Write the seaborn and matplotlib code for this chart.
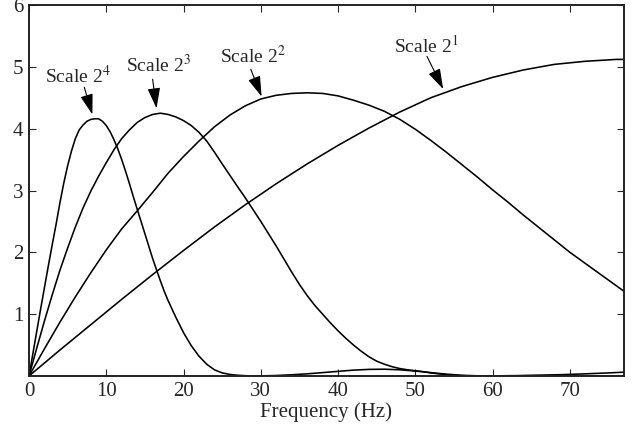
import numpy as np
import pandas as pd
import matplotlib
matplotlib.use("Agg")
import matplotlib.pyplot as plt
import seaborn as sns

# ---- data ----
f_s1 = [0, 4, 8, 12, 16, 20, 24, 28, 32, 36, 40, 44, 48, 52, 56, 60, 64, 68, 72, 76, 77]
v_s1 = [0, 0.42, 0.83, 1.24, 1.64, 2.03, 2.41, 2.77, 3.11, 3.43, 3.73, 4.01, 4.27,
        4.50, 4.68, 4.83, 4.95, 5.04, 5.09, 5.12, 5.12]

f_s2 = [0, 2, 4, 6, 8, 10, 12, 14, 16, 18, 20, 22, 24, 26, 28, 30, 32, 34, 36, 38,
        40, 42, 44, 46, 48, 50, 52, 54, 56, 58, 60, 62, 64, 66, 68, 70, 72, 74, 76, 77]
v_s2 = [0, 0.44, 0.87, 1.28, 1.67, 2.04, 2.38, 2.67, 2.97, 3.28, 3.55, 3.80, 4.03,
        4.22, 4.37, 4.48, 4.54, 4.57, 4.58, 4.57, 4.53, 4.46, 4.38, 4.28, 4.15, 3.99,
        3.81, 3.62, 3.42, 3.22, 3.01, 2.81, 2.60, 2.40, 2.20, 2.00, 1.82, 1.64, 1.46, 1.37]

f_s3 = [0, 1, 2, 3, 4, 5, 6, 7, 8, 9, 10, 11, 12, 13, 14, 15, 16, 17, 18, 19, 20,
        21, 22, 23, 24, 25, 26, 27, 28, 29, 30, 31, 32, 33, 34, 35, 36, 37, 38, 39,
        40, 41, 42, 43, 44, 45, 46, 47, 48, 49, 50, 51, 52, 53, 54, 55, 56, 57, 58,
        60, 63, 66, 69, 72, 75, 77]
v_s3 = [0, 0.45, 0.89, 1.31, 1.71, 2.07, 2.41, 2.72, 2.99, 3.23, 3.45, 3.66, 3.84,
        3.98, 4.10, 4.18, 4.23, 4.25, 4.23, 4.19, 4.13, 4.05, 3.94, 3.80, 3.62, 3.43,
        3.245, 3.06, 2.88, 2.69, 2.50, 2.30, 2.10, 1.89, 1.68, 1.48, 1.30, 1.14, 1.00,
        0.86, 0.73, 0.61, 0.50, 0.40, 0.31, 0.24, 0.19, 0.15, 0.12, 0.10, 0.085, 0.07,
        0.05, 0.035, 0.022, 0.012, 0.005, 0.001, 0.0,
        0.002, 0.006, 0.013, 0.022, 0.035, 0.05, 0.062]

f_s4 = [0, 0.5, 1, 1.5, 2, 2.5, 3, 3.5, 4, 4.5, 5, 5.5, 6, 6.5, 7, 7.5, 8, 8.5, 9,
        9.5, 10, 10.5, 11, 11.5, 12, 12.5, 13, 13.5, 14, 14.5, 15, 15.5, 16, 16.5,
        17, 17.5, 18, 19, 20, 21, 22, 23, 24, 25, 26, 27, 28, 29, 30, 32, 34, 36,
        38, 40, 42, 44, 46, 48, 50, 52, 54, 56, 58, 60, 63, 66, 69, 72, 75, 77]
v_s4 = [0, 0.36, 0.72, 1.08, 1.43, 1.78, 2.12, 2.45, 2.80, 3.12, 3.40, 3.64, 3.84,
        3.98, 4.06, 4.12, 4.15, 4.16, 4.16, 4.12, 4.05, 3.95, 3.82, 3.67, 3.50, 3.31,
        3.11, 2.90, 2.70, 2.50, 2.30, 2.10, 1.90, 1.72, 1.54, 1.37, 1.22, 0.95, 0.70,
        0.49, 0.32, 0.19, 0.10, 0.05, 0.025, 0.012, 0.005, 0.0, 0.002, 0.008, 0.02,
        0.035, 0.055, 0.075, 0.095, 0.107, 0.11, 0.10, 0.08, 0.055, 0.03, 0.012,
        0.003, 0.0, 0.003, 0.006, 0.006, 0.004, 0.002, 0.0]

scale_names = ["2^1", "2^2", "2^3", "2^4"]
x_ticks = [0, 10, 20, 30, 40, 50, 60, 70]
y_ticks = [1, 2, 3, 4, 5, 6]

labels = [r"Scale 2$^{1}$", r"Scale 2$^{2}$", r"Scale 2$^{3}$", r"Scale 2$^{4}$"]
label_xy = [(51.4, 5.34), (28.95, 5.17), (16.7, 5.03), (6.3, 4.85)]
arrow_tail = [(51.5, 5.17), (28.7, 4.96), (16.0, 4.80), (7.15, 4.67)]
arrow_tip = [(53.6, 4.64), (30.1, 4.52), (16.5, 4.33), (8.2, 4.23)]

# ---- build long-form table ----
frames = []
for name, fx, vy in zip(scale_names, [f_s1, f_s2, f_s3, f_s4], [v_s1, v_s2, v_s3, v_s4]):
    frames.append(pd.DataFrame({"freq": fx, "mag": vy, "scale": name}))
df = pd.concat(frames, ignore_index=True)

sns.set_style("ticks")
plt.rcParams["font.family"] = ["Liberation Serif", "DejaVu Serif"]
plt.rcParams["mathtext.fontset"] = "stix"

fig = plt.figure(figsize=(6.35, 4.32), dpi=100)
ax = fig.add_axes([29 / 635, 1 - 376 / 432, (624 - 29) / 635, (376 - 5) / 432])

sns.lineplot(data=df, x="freq", y="mag", hue="scale", units="scale", estimator=None,
             palette=["black"] * 4, legend=False, linewidth=1.15, ax=ax)

ax.set_xlim(0, 77)
ax.set_ylim(0, 6)
ax.set_xticks(x_ticks)
ax.set_yticks(y_ticks)
ax.set_xlabel("Frequency (Hz)", fontsize=15, labelpad=1)
ax.set_ylabel("")
ax.tick_params(direction="in", length=5, width=0.8, top=True, right=True,
               labelsize=15, pad=4)
for s in ax.spines.values():
    s.set_linewidth(1.4)
    s.set_color("#222222")

for txt, xy, tail, tip in zip(labels, label_xy, arrow_tail, arrow_tip):
    ax.text(xy[0], xy[1], txt, fontsize=14, ha="center", va="center")
    ax.annotate("", xy=tip, xytext=tail,
                arrowprops=dict(arrowstyle="-|>,head_length=0.9,head_width=0.28",
                                color="black", lw=0.8, shrinkA=0, shrinkB=0,
                                mutation_scale=14))

fig.savefig("out.png", dpi=100)
